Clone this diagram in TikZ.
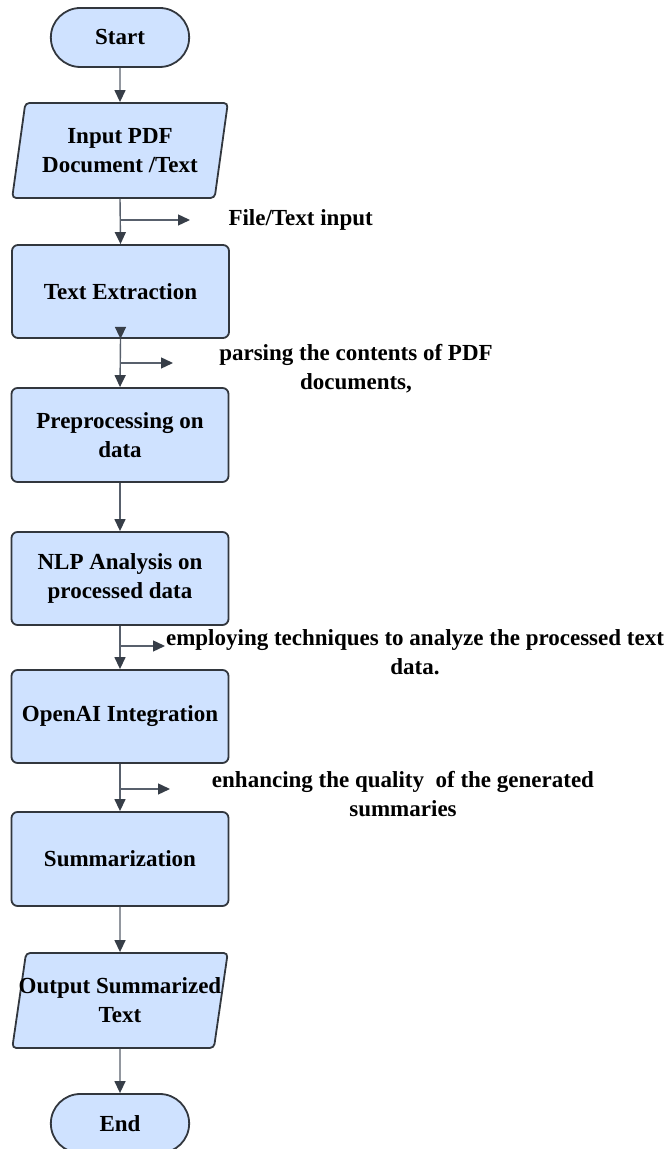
\documentclass[tikz,border=0pt]{standalone}
\usepackage{fontspec}
\setmainfont{Liberation Serif}
\usetikzlibrary{arrows.meta,shapes.geometric,shapes.misc}
\definecolor{boxblue}{RGB}{207,226,255}
\definecolor{boxline}{RGB}{50,55,62}
\definecolor{wiregray}{RGB}{88,96,108}
\definecolor{tipdark}{RGB}{55,62,72}
\tikzset{
  txt/.style={font=\fontsize{23}{29}\selectfont\bfseries},
  terminal/.style={rounded rectangle, draw=boxline, line width=1.8pt,
                   fill=boxblue, minimum width=145pt, minimum height=59pt,
                   txt},
  io/.style={trapezium, trapezium left angle=78, trapezium right angle=102,
             trapezium stretches=true, draw=boxline, line width=1.8pt,
             fill=boxblue, rounded corners=4pt, minimum width=216pt,
             minimum height=95pt, inner xsep=0pt, align=center, txt},
  process/.style={rectangle, draw=boxline, line width=1.8pt, fill=boxblue,
                  rounded corners=6pt, minimum width=217pt,
                  minimum height=94pt, align=center, txt},
  flow/.style={wiregray, line width=1.4pt,
               -{Triangle[length=12pt,width=11pt,color=tipdark]}},
  note/.style={txt, align=center},
}

\begin{document}
\begin{tikzpicture}[x=1pt,y=1pt]
  \path[use as bounding box] (0,0) rectangle (665,1149);

  % main column
  \node[terminal] (start) at (120,1111.5) {Start};
  \node[io] (input) at (120,998.5) {Input PDF\\Document /Text};
  \node[process, minimum height=93pt] (extract) at (120.5,857.5)
    {Text Extraction};
  \node[process] (prep) at (120,714) {Preprocessing on\\data};
  \node[process, minimum height=93pt] (nlp) at (120,570.5)
    {NLP Analysis on\\processed data};
  \node[process, minimum height=93pt] (openai) at (120,432.5)
    {OpenAI Integration};
  \node[process] (summ) at (120,290) {Summarization};
  \node[io] (output) at (120,148.5)
    {\makebox[150pt]{Output Summarized}\\Text};
  \node[terminal] (finish) at (120,25.5) {End};

  \draw[flow] (start.south) -- (input.north);
  \draw[flow] (input.south) -- (extract.north);
  \draw[flow] ([yshift=11pt]extract.south) -- (extract.south);
  \draw[flow] (extract.south) -- (prep.north);
  \draw[flow] (prep.south) -- (nlp.north);
  \draw[flow] (nlp.south) -- (openai.north);
  \draw[flow] (openai.south) -- (summ.north);
  \draw[flow] (summ.south) -- (output.north);
  \draw[flow] (output.south) -- (finish.north);

  % side notes
  \coordinate (fork1) at (120,929);
  \coordinate (tip1) at (190,929);
  \draw[flow] (fork1) -- (tip1);
  \node[note, anchor=west] (lblfile) at (225,929) {File/Text input};

  \coordinate (fork2) at (120,786);
  \coordinate (tip2) at (173,786);
  \draw[flow] (fork2) -- (tip2);
  \node[note] (lblparse) at (356,780.5)
    {parsing the contents of PDF\\documents,};

  \coordinate (fork3) at (121,503);
  \coordinate (tip3) at (165,503);
  \draw[flow] (fork3) -- (tip3);
  \node[note] (lblnlp) at (415,496.5)
    {employing techniques to analyze the processed text\\data.};

  \coordinate (fork4) at (120,360);
  \coordinate (tip4) at (170,360);
  \draw[flow] (fork4) -- (tip4);
  \node[note] (lblai) at (403,355)
    {enhancing the quality\ \ of the generated\\summaries};
\end{tikzpicture}
\end{document}
